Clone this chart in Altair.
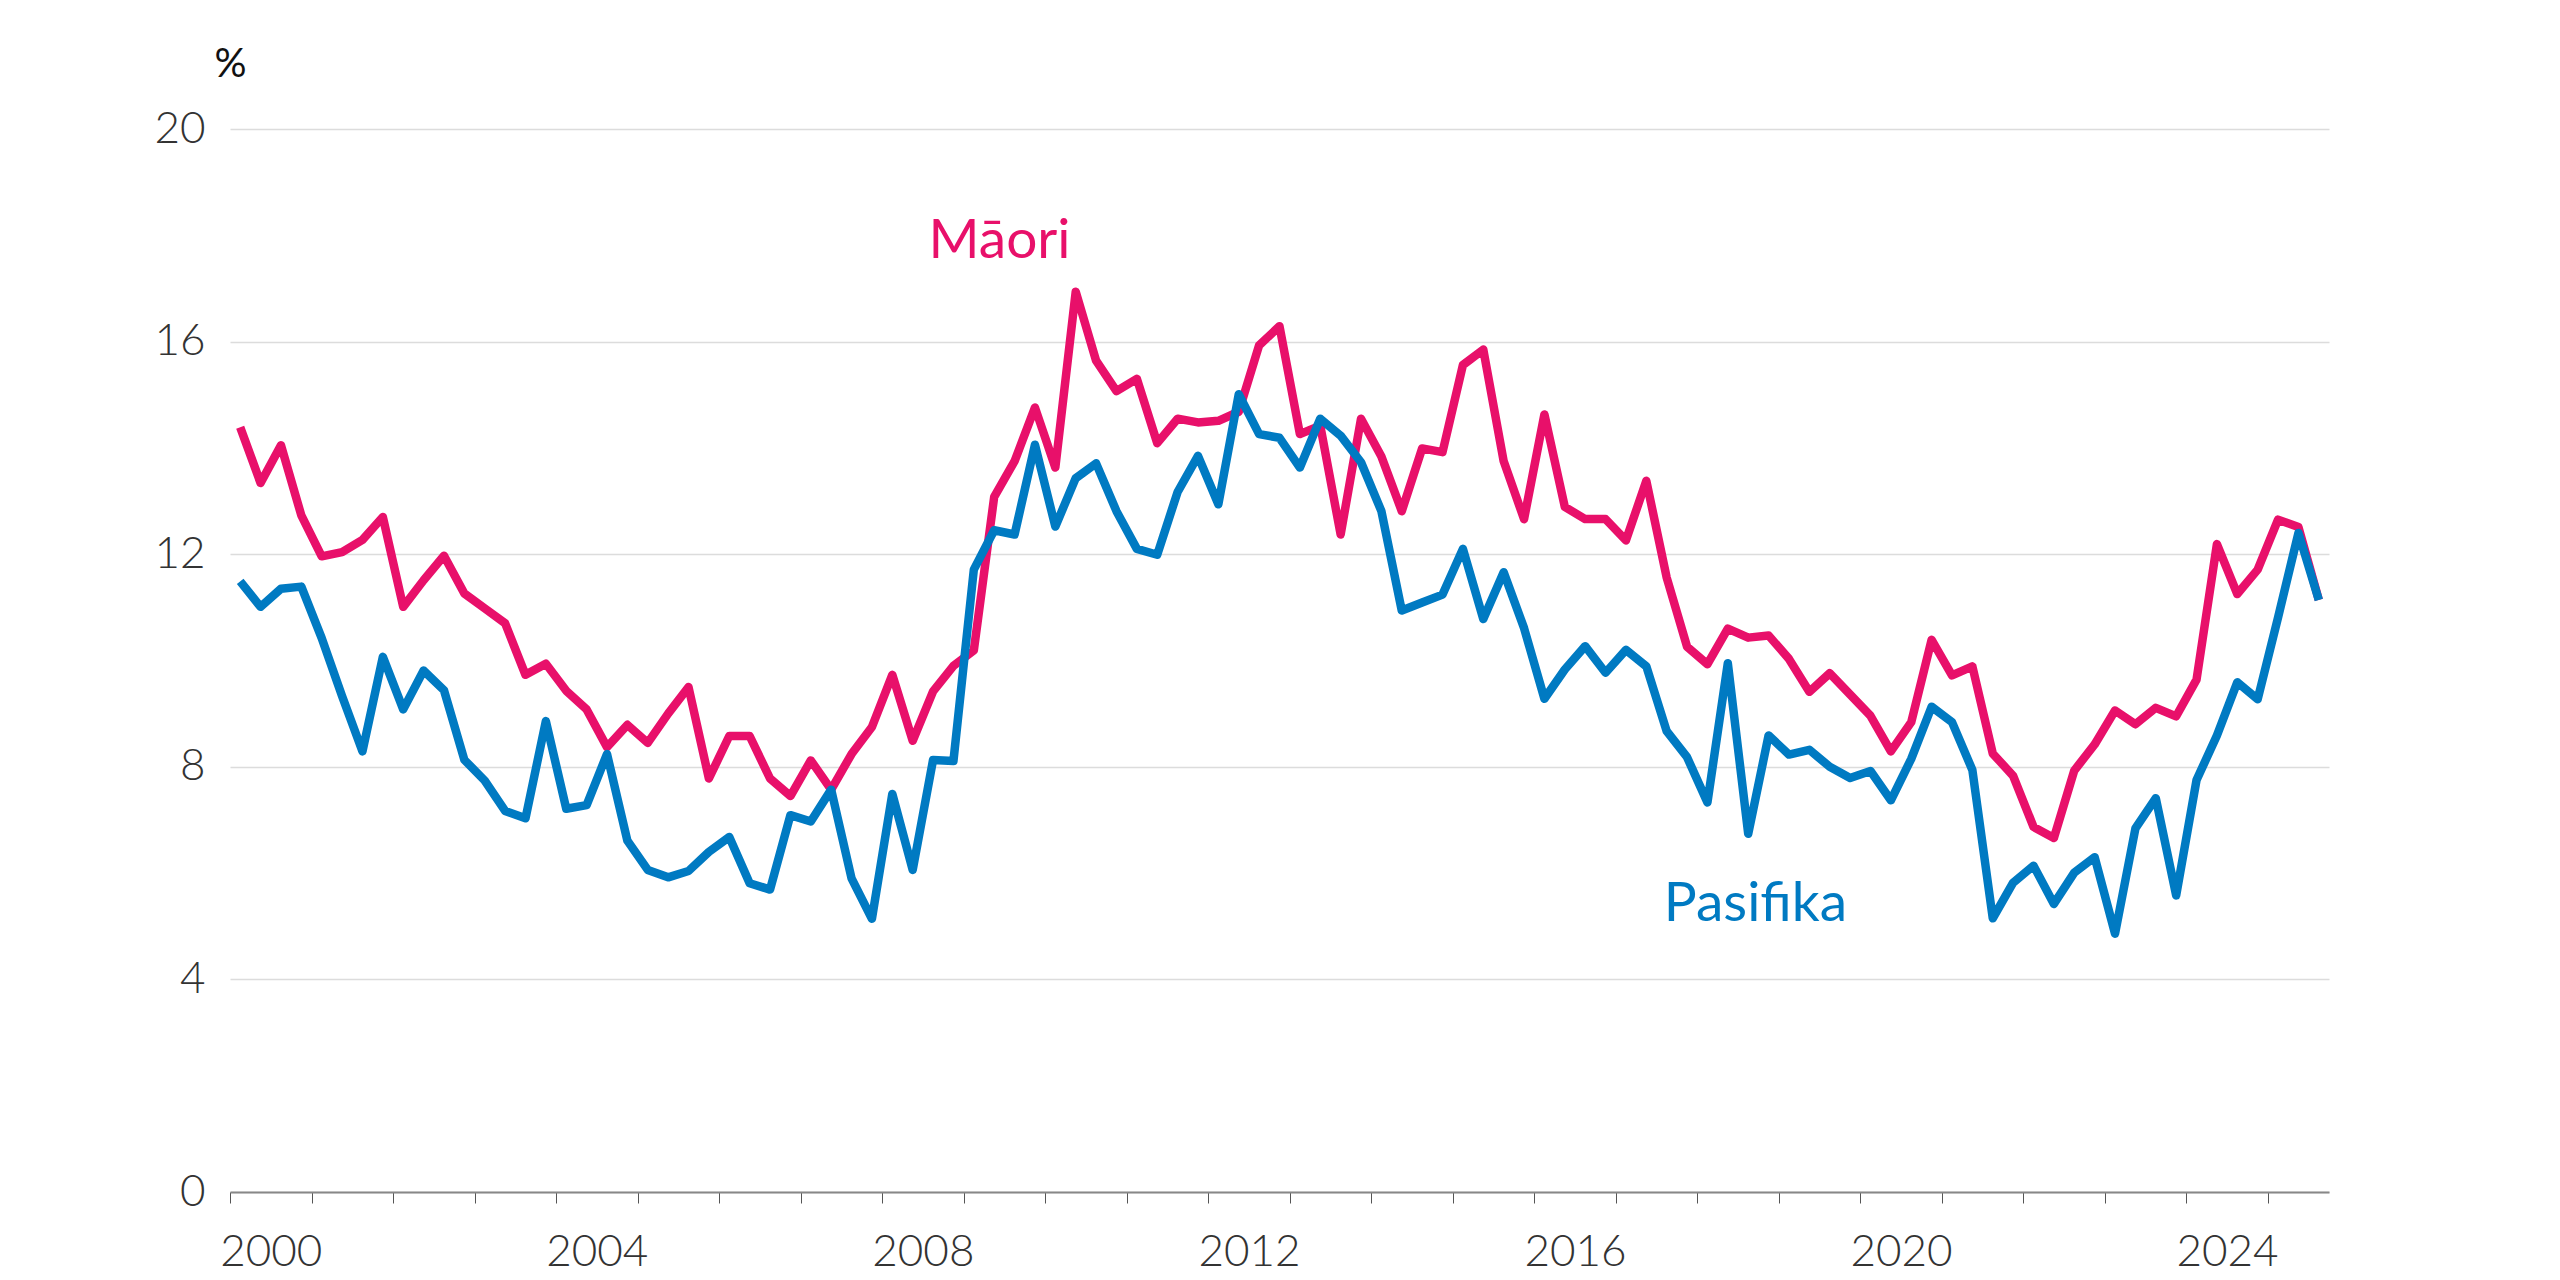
import altair as alt
import pandas as pd

# Quarterly series, 2000 Q1 – 2025 Q3 (percent)
maori = [
    14.39, 13.34, 14.05, 12.73, 11.96, 12.04, 12.27, 12.70, 11.01, 11.51,
    11.97, 11.26, 10.98, 10.70, 9.73, 9.94, 9.43, 9.08, 8.37, 8.79,
    8.45, 9.00, 9.50, 7.78, 8.58, 8.58, 7.78, 7.45, 8.12, 7.57,
    8.24, 8.75, 9.73, 8.49, 9.42, 9.90, 10.19, 13.08, 13.75, 14.76,
    13.63, 16.94, 15.64, 15.07, 15.30, 14.09, 14.55, 14.48, 14.51, 14.68,
    15.93, 16.29, 14.26, 14.42, 12.37, 14.55, 13.84, 12.81, 13.99, 13.92,
    15.56, 15.85, 13.75, 12.66, 14.63, 12.89, 12.66, 12.66, 12.26, 13.38,
    11.56, 10.26, 9.93, 10.60, 10.43, 10.47, 10.03, 9.41, 9.76, 9.36,
    8.96, 8.29, 8.84, 10.39, 9.72, 9.89, 8.25, 7.83, 6.87, 6.66,
    7.93, 8.42, 9.06, 8.80, 9.11, 8.95, 9.64, 12.19, 11.25, 11.71,
    12.65, 12.51, 11.14,
]
pasifika = [
    11.49, 11.01, 11.35, 11.39, 10.42, 9.33, 8.29, 10.07, 9.08, 9.81,
    9.44, 8.13, 7.74, 7.17, 7.03, 8.86, 7.21, 7.28, 8.24, 6.61,
    6.06, 5.92, 6.04, 6.40, 6.68, 5.81, 5.69, 7.09, 6.97, 7.57,
    5.90, 5.14, 7.49, 6.06, 8.13, 8.11, 11.71, 12.45, 12.37, 14.06,
    12.52, 13.43, 13.71, 12.81, 12.10, 11.99, 13.17, 13.85, 12.94, 15.01,
    14.26, 14.19, 13.63, 14.55, 14.23, 13.73, 12.81, 10.94, 11.09, 11.24,
    12.10, 10.78, 11.66, 10.61, 9.28, 9.83, 10.27, 9.77, 10.20, 9.89,
    8.67, 8.18, 7.33, 9.95, 6.74, 8.59, 8.23, 8.32, 8.00, 7.79,
    7.92, 7.37, 8.15, 9.13, 8.84, 7.94, 5.15, 5.82, 6.14, 5.42,
    6.01, 6.30, 4.86, 6.84, 7.41, 5.58, 7.75, 8.59, 9.59, 9.27,
    10.81, 12.40, 11.14,
]
quarters = [f"{y}Q{q}" for y in range(2000, 2026) for q in range(1, 5)][:len(maori)]

series_names = ["Māori", "Pasifika"]
series_colors = ["#E8106A", "#007AC2"]

# Series labels placed in data coordinates
label_text = ["Māori", "Pasifika"]
label_t = [2008.57, 2017.59]
label_v = [17.57, 5.10]

y_ticks = [0, 4, 8, 12, 16, 20]
x_ticks = list(range(2000, 2026))


def qdec(q):
    y, n = q.split("Q")
    return int(y) + (int(n) - 0.5) / 4


rows = []
for name, vals in zip(series_names, [maori, pasifika]):
    for q, v in zip(quarters, vals):
        rows.append({"series": name, "t": qdec(q), "v": v})
df = pd.DataFrame(rows)

labels_df = pd.DataFrame({
    "label": label_text,
    "t": label_t,
    "v": label_v,
    "color": series_colors,
})

FONT = "Lato"

x_enc = alt.X(
    "t:Q",
    scale=alt.Scale(domain=[2000, 2025.75], nice=False, zero=False),
    axis=alt.Axis(
        values=x_ticks,
        labelExpr="datum.value % 4 == 0 ? format(datum.value, 'd') : ''",
        labelOffset=40.75,
        labelFlush=False,
        labelOverlap=False,
        labelFontSize=44,
        labelFont=FONT,
        labelFontWeight=300,
        labelColor="#333333",
        labelPadding=27,
        labelBaseline="top",
        tickSize=11,
        tickColor="#555555",
        tickWidth=1,
        domainColor="#888888",
        domainWidth=2,
        grid=False,
        title=None,
    ),
)

y_enc = alt.Y(
    "v:Q",
    scale=alt.Scale(domain=[0, 20], nice=False),
    axis=alt.Axis(
        values=y_ticks,
        labelFontSize=44,
        labelFont=FONT,
        labelFontWeight=300,
        labelColor="#333333",
        labelPadding=25,
        ticks=False,
        domain=False,
        grid=True,
        gridColor="#dcdcdc",
        gridWidth=1.5,
        title="%",
        titleAngle=0,
        titleX=0,
        titleY=-53,
        titleAlign="center",
        titleBaseline="alphabetic",
        titleFont=FONT,
        titleFontSize=40,
        titleFontWeight="normal",
        titleColor="#111111",
    ),
)

base = alt.Chart(df)

line_m = base.transform_filter(alt.datum.series == "Māori").mark_line(
    strokeWidth=8.5, strokeJoin="round", strokeCap="butt", color=series_colors[0]
).encode(x=x_enc, y=y_enc)

line_p = base.transform_filter(alt.datum.series == "Pasifika").mark_line(
    strokeWidth=8.5, strokeJoin="round", strokeCap="butt", color=series_colors[1]
).encode(x="t:Q", y="v:Q")

text = alt.Chart(labels_df).mark_text(
    align="left", baseline="alphabetic", fontSize=55, font=FONT
).encode(
    x="t:Q",
    y="v:Q",
    text="label:N",
    color=alt.Color("color:N", scale=None),
)

chart = alt.layer(line_m, line_p, text).properties(
    width=2099,
    height=1063,
    autosize=alt.AutoSizeParams(type="none"),
    padding={"left": 230, "top": 129, "right": 231, "bottom": 88},
    background="white",
).configure_view(stroke=None)

chart.save("out.html", embed_options={"renderer": "svg", "actions": False})
